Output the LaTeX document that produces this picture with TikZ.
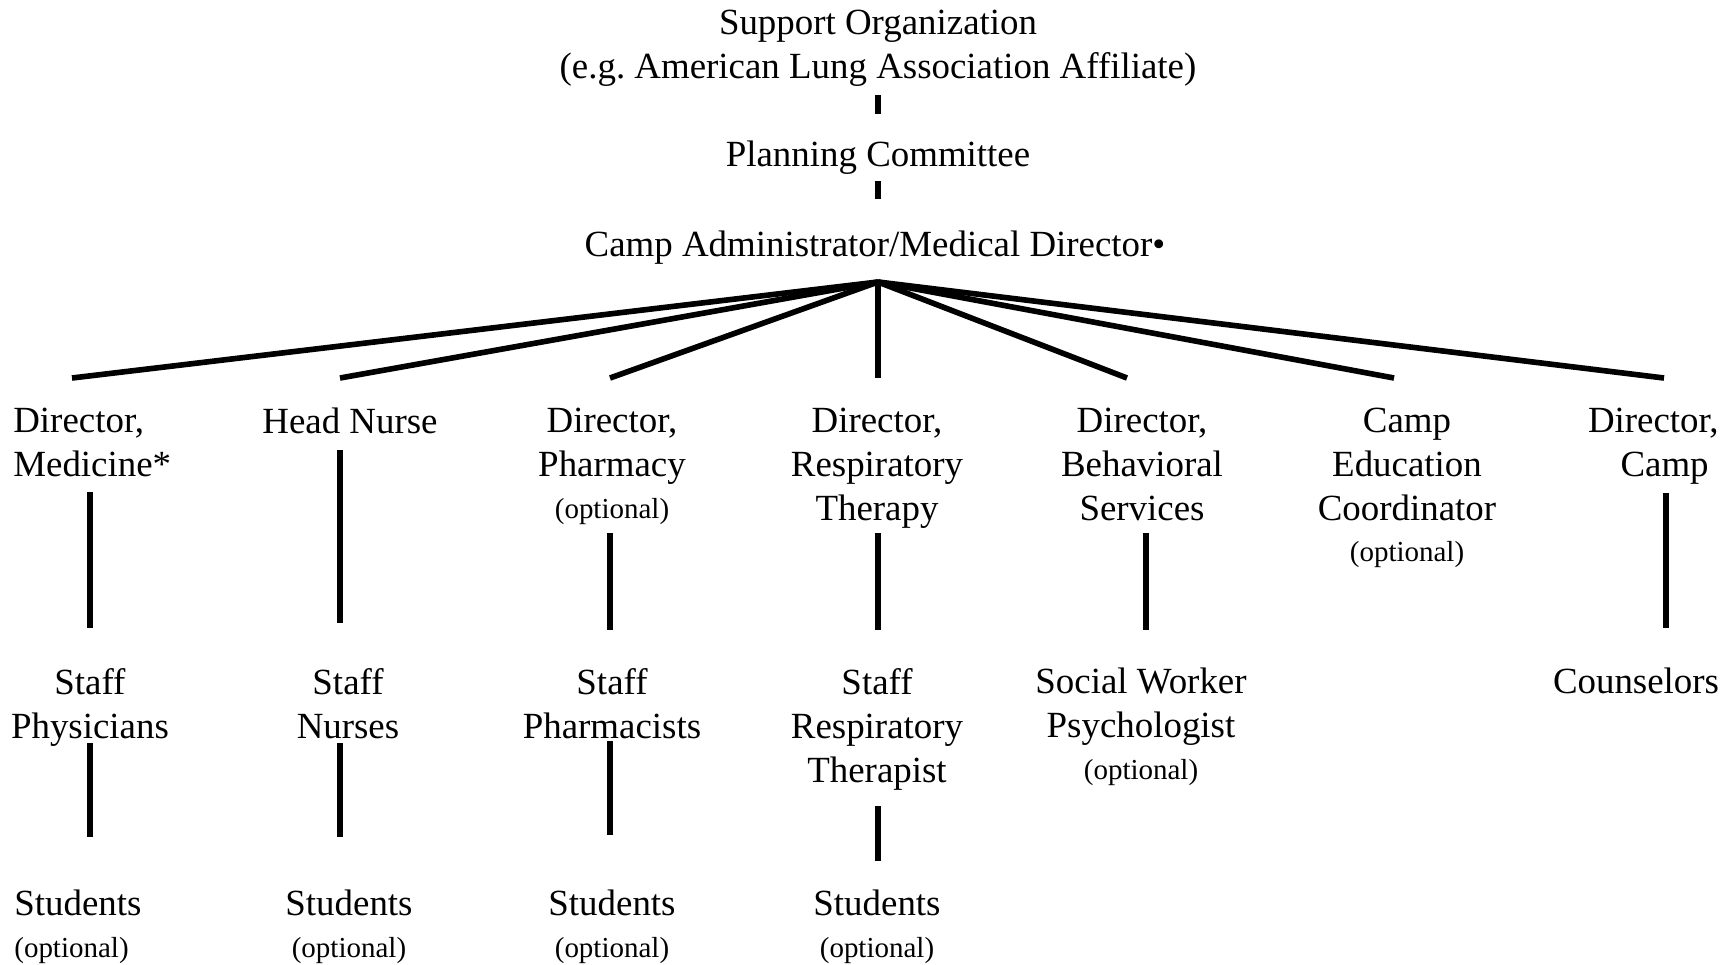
\documentclass[tikz,border=0pt]{standalone}
\usepackage{fontspec}
\setmainfont{Liberation Serif}

\newcommand{\optnote}{{\fontsize{16.5}{20}\selectfont (optional)}}

\tikzset{
  post/.style={anchor=north, align=center, inner sep=0pt, font=\fontsize{21}{25}\selectfont},
  link/.style={line width=3.2pt},
}

\begin{document}
\begin{tikzpicture}[x=0.02cm, y=-0.02cm]
\useasboundingbox (0,0) rectangle (1736,964);

% Top of the chart
\node[post] (support) at (878,10) {Support Organization\\(e.g.\ American Lung Association Affiliate)};
\node[post] (planning) at (878,141) {Planning Committee};
\node[post] (admin) at (875,231) {Camp Administrator/Medical Director\textbullet};

\coordinate (sup-lo) at (878,95);
\coordinate (pla-hi) at (878,114);
\coordinate (pla-lo) at (878,181);
\coordinate (adm-hi) at (878,199);
\draw[link] (sup-lo) -- (pla-hi);
\draw[link] (pla-lo) -- (adm-hi);

% Directors
\node[post, anchor=north west, align=left] (medicine) at (13,408) {Director,\\Medicine*};
\node[post] (nurse) at (350,408) {Head Nurse};
\node[post] (pharmacy) at (612,408) {Director,\\Pharmacy\\[-1.5pt]\optnote};
\node[post] (respiratory) at (877,408) {Director,\\Respiratory\\Therapy};
\node[post] (behavioral) at (1142,408) {Director,\\Behavioral\\Services};
\node[post] (education) at (1407,408) {Camp\\Education\\Coordinator\\[-1.5pt]\optnote};
\node[post, anchor=north east, align=right] (campdir) at (1719,408) {Director,\\Camp\kern0.2cm};

% Fan from the administrator
\coordinate (apex) at (878,282);
\coordinate (fmed) at (72,378);
\coordinate (fnur) at (340,378);
\coordinate (fpha) at (610,378);
\coordinate (fres) at (878,378);
\coordinate (fbeh) at (1127,378);
\coordinate (fedu) at (1394,378);
\coordinate (fcam) at (1664,378);
\foreach \f in {fmed,fnur,fpha,fres,fbeh,fedu,fcam}
  \draw[link] (apex) -- (\f);

% Staff
\node[post] (physicians) at (90,668) {Staff\\Physicians};
\node[post] (nurses) at (348,668) {Staff\\Nurses};
\node[post] (pharmacists) at (612,668) {Staff\\Pharmacists};
\node[post] (therapist) at (877,668) {Staff\\Respiratory\\Therapist};
\node[post] (social) at (1141,668) {Social Worker\\Psychologist\\[-1.5pt]\optnote};
\node[post] (counselors) at (1636,668) {Counselors};

\coordinate (med-lo) at (90,492);   \coordinate (phy-hi) at (90,628);
\coordinate (nur-lo) at (340,450);  \coordinate (nus-hi) at (340,623);
\coordinate (pha-lo) at (610,533);  \coordinate (phs-hi) at (610,630);
\coordinate (res-lo) at (878,533);  \coordinate (the-hi) at (878,630);
\coordinate (beh-lo) at (1146,533); \coordinate (soc-hi) at (1146,630);
\coordinate (cam-lo) at (1666,493); \coordinate (cou-hi) at (1666,628);
\draw[link] (med-lo) -- (phy-hi);
\draw[link] (nur-lo) -- (nus-hi);
\draw[link] (pha-lo) -- (phs-hi);
\draw[link] (res-lo) -- (the-hi);
\draw[link] (beh-lo) -- (soc-hi);
\draw[link] (cam-lo) -- (cou-hi);

% Students
\node[post, anchor=north west, align=left] (stud1) at (14,890) {Students\\[-1.5pt]\optnote};
\node[post] (stud2) at (349,890) {Students\\[-1.5pt]\optnote};
\node[post] (stud3) at (612,890) {Students\\[-1.5pt]\optnote};
\node[post] (stud4) at (877,890) {Students\\[-1.5pt]\optnote};

\coordinate (phy-lo) at (90,743);   \coordinate (st1-hi) at (90,837);
\coordinate (nus-lo) at (340,743);  \coordinate (st2-hi) at (340,837);
\coordinate (phs-lo) at (610,741);  \coordinate (st3-hi) at (610,835);
\coordinate (the-lo) at (878,806);  \coordinate (st4-hi) at (878,861);
\draw[link] (phy-lo) -- (st1-hi);
\draw[link] (nus-lo) -- (st2-hi);
\draw[link] (phs-lo) -- (st3-hi);
\draw[link] (the-lo) -- (st4-hi);
\end{tikzpicture}
\end{document}
